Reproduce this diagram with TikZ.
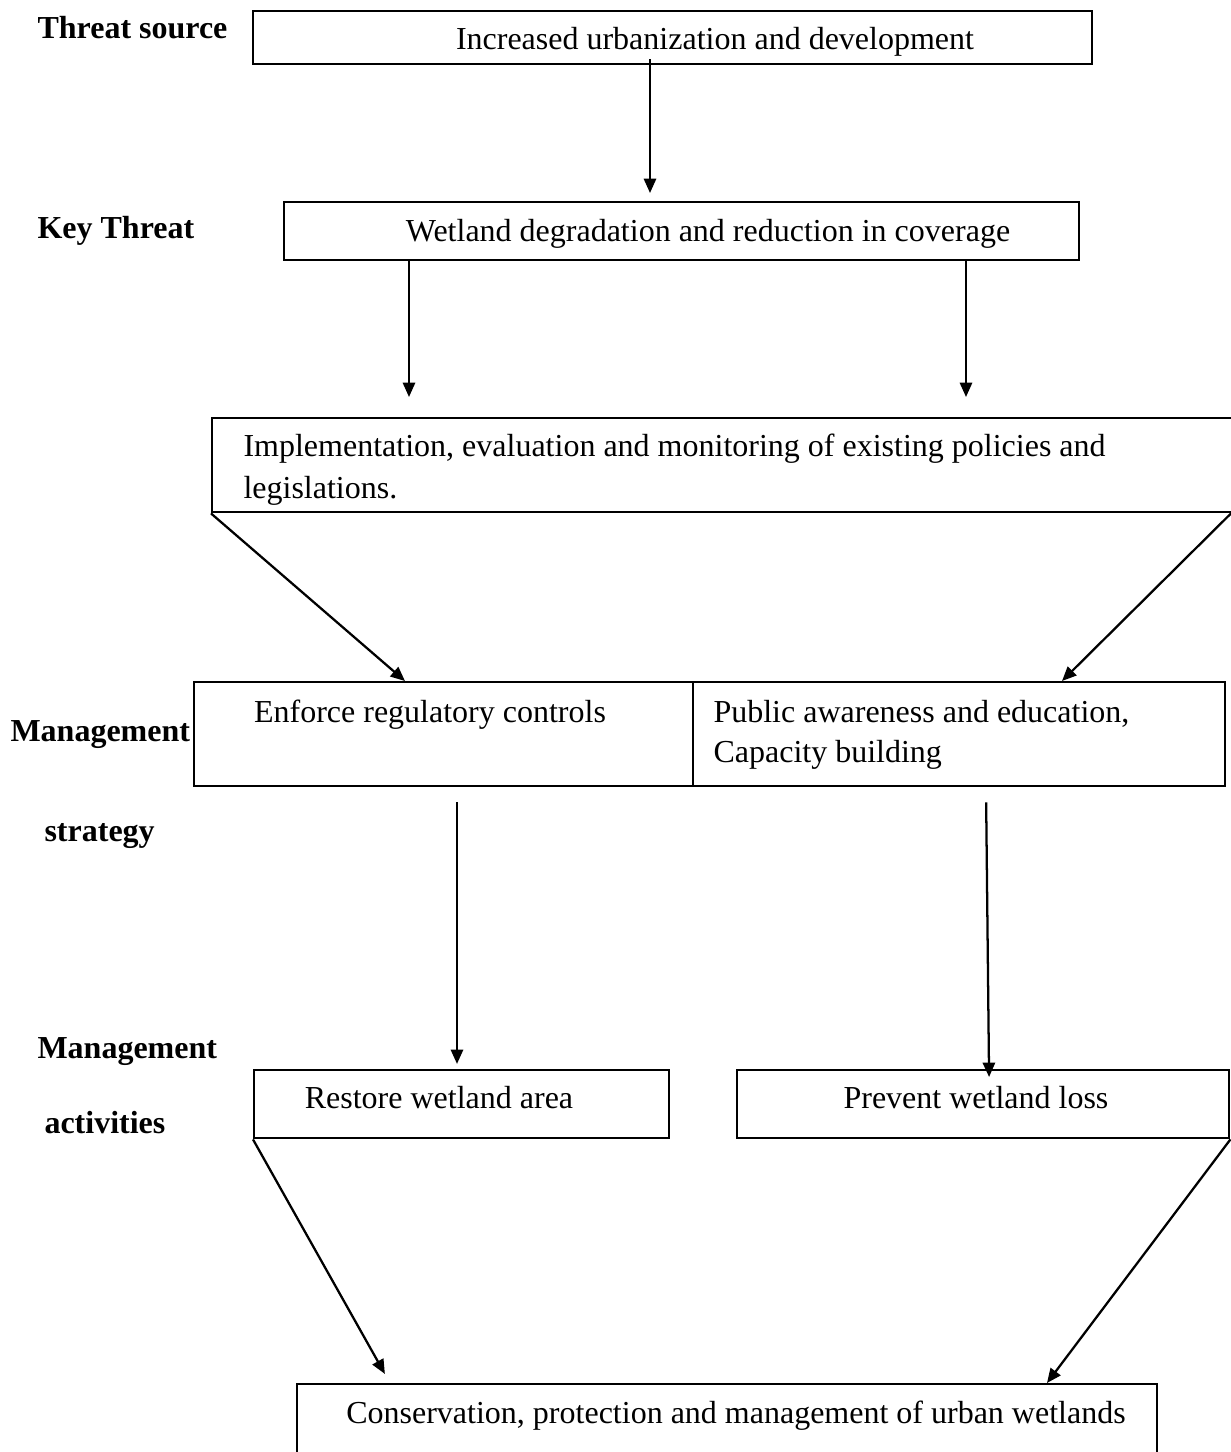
\documentclass[tikz,border=0pt]{standalone}
\usepackage{fontspec}
\setmainfont{Liberation Serif}
\usetikzlibrary{arrows.meta}
\begin{document}
\begin{tikzpicture}[x=0.375pt,y=-0.375pt,font=\fontsize{12}{15}\selectfont]
\tikzset{
  box/.style={draw, line width=0.9pt, inner sep=0pt, anchor=north west},
  arr/.style={-{Triangle[length=5.4pt,width=4.6pt]}, line width=0.85pt},
  lbl/.style={font=\fontsize{12}{15}\selectfont\bfseries, anchor=base west, inner sep=0pt},
  txt/.style={anchor=base, inner sep=0pt},
  txtl/.style={anchor=base west, inner sep=0pt, align=left, font=\fontsize{12}{15.5}\selectfont},
}
\useasboundingbox (0,0) rectangle (1231,1452);

% side labels
\node[lbl] (l1) at (37,38) {Threat source};
\node[lbl] (l2) at (37,238) {Key Threat};
\node[lbl] (l3) at (10,741) {Management};
\node[lbl] (l4) at (44,841) {strategy};
\node[lbl] (l5) at (37,1058) {Management};
\node[lbl] (l6) at (44,1133) {activities};

% boxes
\node[box, minimum width=839*0.375pt, minimum height=53*0.375pt] (b1) at (252,10) {};
\node[box, minimum width=795*0.375pt, minimum height=58*0.375pt] (b2) at (283,201) {};
\node[box, minimum width=1100*0.375pt, minimum height=94*0.375pt] (b3) at (211,417) {};
\node[box, minimum width=499*0.375pt, minimum height=104*0.375pt] (s1) at (193,681) {};
\node[box, minimum width=532*0.375pt, minimum height=104*0.375pt] (s2) at (692,681) {};
\node[box, minimum width=415*0.375pt, minimum height=68*0.375pt] (a1) at (253,1069) {};
\node[box, minimum width=492*0.375pt, minimum height=68*0.375pt] (a2) at (736,1069) {};
\node[box, minimum width=860*0.375pt, minimum height=140*0.375pt] (c) at (296,1383) {};

% texts
\node[txt] (t1) at (715,49) {Increased urbanization and development};
\node[txt] (t2) at (708,241) {Wetland degradation and reduction in coverage};
\node[txtl] (t3) at (243,498) {Implementation, evaluation and monitoring of existing policies and\\legislations.};
\node[txt] (ts1) at (430,722) {Enforce regulatory controls};
\node[txtl, font=\fontsize{12}{15}\selectfont] (ts2) at (713,762) {Public awareness and education,\\Capacity building};
\node[txt] (ta1) at (439,1108) {Restore wetland area};
\node[txt] (ta2) at (976,1108) {Prevent wetland loss};
\node[txt] (tc) at (736,1423) {Conservation, protection and management of urban wetlands};

% connectors
\draw[arr, shorten <=-2.25pt, shorten >=3pt] (b1.south -| 650,0) -- (b2.north -| 650,0);
\draw[arr, shorten >=7.5pt] (b2.south -| 409,0) -- (b3.north -| 409,0);
\draw[arr, shorten >=7.5pt] (b2.south -| 966,0) -- (b3.north -| 966,0);
\draw[arr] (b3.south west) -- (s1.north -| 405,0);
\draw[arr] (b3.south -| 1231,0) -- (s2.north -| 1062,0);
\draw[arr, shorten <=5.6pt, shorten >=1.9pt] (s1.south -| 457,0) -- (a1.north -| 457,0);
\draw[arr, shorten <=5.6pt, shorten >=-3pt] (s2.south -| 986,0) -- (a2.north -| 989,0);
\draw[arr, shorten >=3.9pt] (a1.south west) -- (c.north -| 390,0);
\draw[arr] (a2.south east) -- (c.north -| 1047,0);
\end{tikzpicture}
\end{document}
